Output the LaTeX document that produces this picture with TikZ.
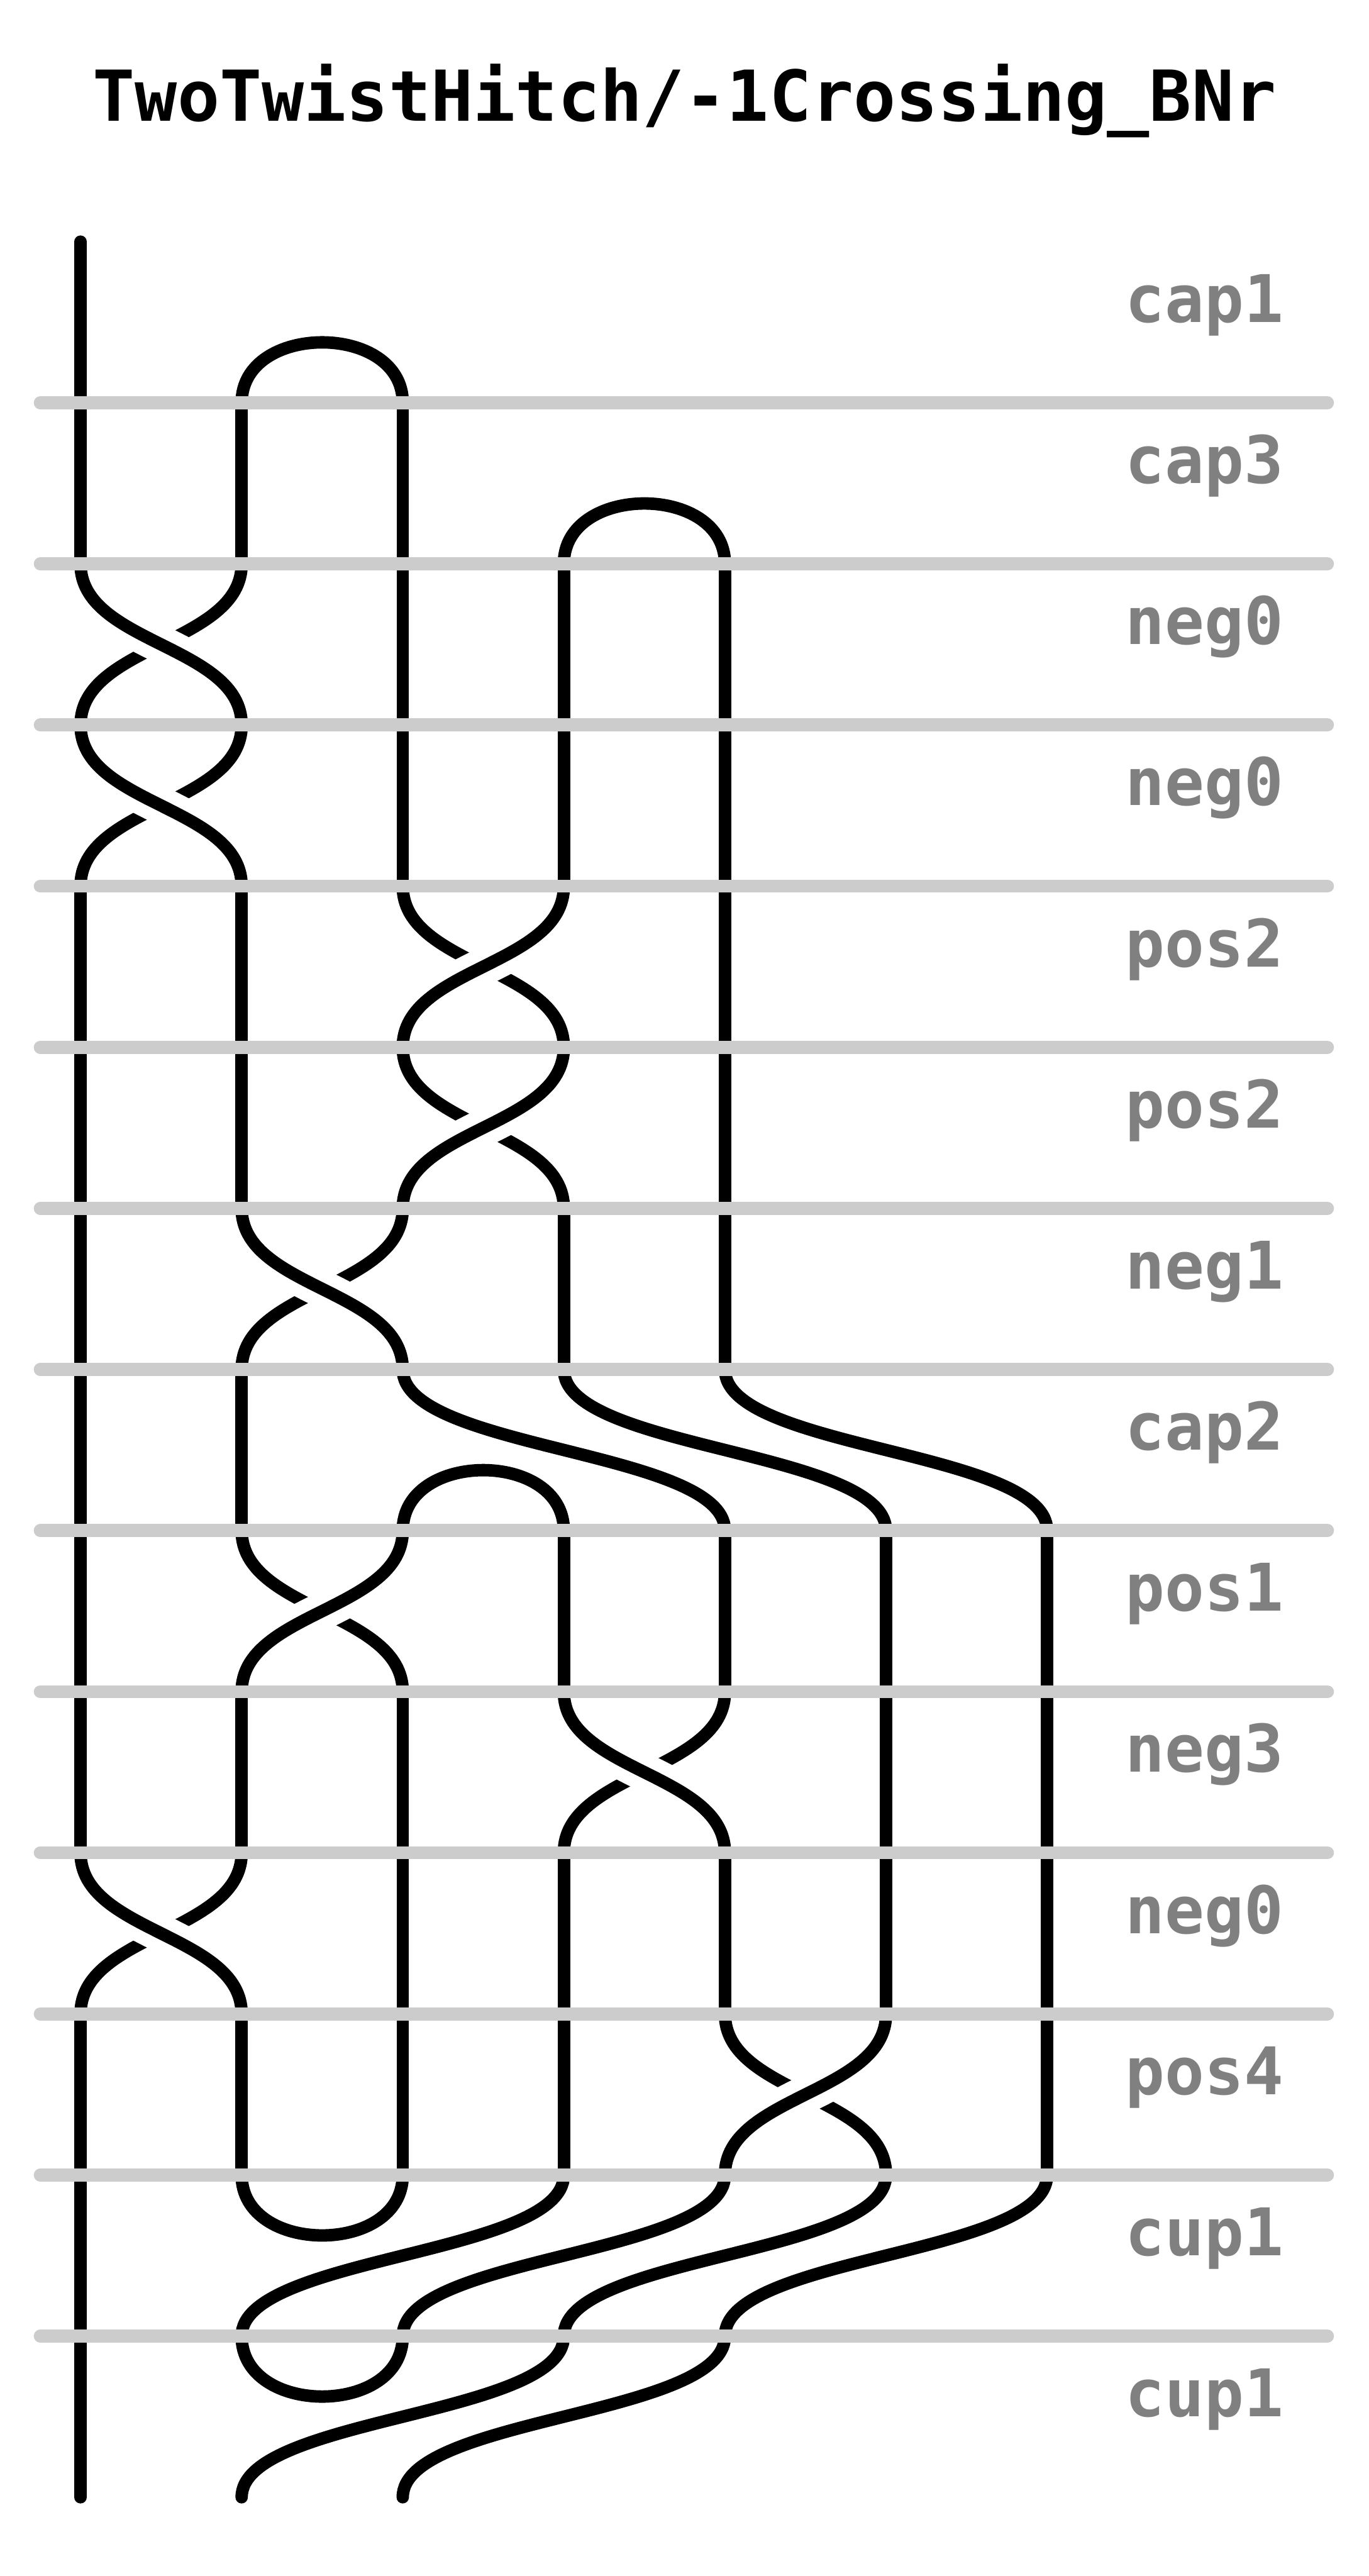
\documentclass[tikz,border=0pt]{standalone}
\usepackage{fontspec}
\setmonofont{DejaVu Sans Mono}
\definecolor{rulegray}{RGB}{204,204,204}
\definecolor{labelgray}{RGB}{128,128,128}

\tikzset{
  strand/.style={line width=2.2pt, line cap=round, black},
  halo/.style={line width=6.7pt, line cap=butt, white},
  level/.style={line width=2.3pt, line cap=round, rulegray},
  bandlabel/.style={anchor=base west, inner sep=0pt, text=labelgray,
    font=\fontsize{11.6}{13}\selectfont\ttfamily\bfseries},
  titletext/.style={anchor=base, inner sep=0pt,
    font=\fontsize{12.4}{14}\selectfont\ttfamily\bfseries}
}

% column #1 sits at x=0.5+#1, band #2 runs from y=1.5+#2 to y=2.5+#2
\newcommand{\straight}[2]{\draw[strand] ({0.5+#1},{1.5+#2}) -- ({0.5+#1},{2.5+#2});}
% S-curve from column #2 (top) to column #3 (bottom) in band #4
\newcommand{\swing}[4][strand]{\draw[#1] ({0.5+#2},{1.5+#4})
  .. controls ({0.5+#2},{2+#4}) and ({0.5+#3},{2+#4}) .. ({0.5+#3},{2.5+#4});}
\newcommand{\capArc}[2]{\draw[strand] ({0.5+#1},{2.5+#2})
  .. controls ({0.5+#1},{2+#2}) and ({1.5+#1},{2+#2}) .. ({1.5+#1},{2.5+#2});}
\newcommand{\cupArc}[2]{\draw[strand] ({0.5+#1},{1.5+#2})
  .. controls ({0.5+#1},{2+#2}) and ({1.5+#1},{2+#2}) .. ({1.5+#1},{1.5+#2});}
% negative crossing: top-left to bottom-right passes over
\newcommand{\negX}[2]{\swing{#1+1}{#1}{#2}\swing[halo]{#1}{#1+1}{#2}\swing{#1}{#1+1}{#2}}
% positive crossing: top-right to bottom-left passes over
\newcommand{\posX}[2]{\swing{#1}{#1+1}{#2}\swing[halo]{#1+1}{#1}{#2}\swing{#1+1}{#1}{#2}}

\begin{document}
\begin{tikzpicture}[x=1cm, y=-1cm]

\useasboundingbox (0,0) rectangle (8.496,15.989);

%---------------------------------------
% Title
%---------------------------------------
\node[titletext] (title) at (4.25,0.752) {TwoTwistHitch/-1Crossing\_BNr};

%---------------------------------------
% Strands, band by band
%---------------------------------------
% cap1
\straight{0}{0}
\capArc{1}{0}
% cap3
\foreach \k in {0,1,2} {\straight{\k}{1}}
\capArc{3}{1}
% neg0, neg0
\negX{0}{2}
\foreach \k in {2,3,4} {\straight{\k}{2}}
\negX{0}{3}
\foreach \k in {2,3,4} {\straight{\k}{3}}
% pos2, pos2
\foreach \k in {0,1,4} {\straight{\k}{4}}
\posX{2}{4}
\foreach \k in {0,1,4} {\straight{\k}{5}}
\posX{2}{5}
% neg1
\foreach \k in {0,3,4} {\straight{\k}{6}}
\negX{1}{6}
% cap2
\straight{0}{7}
\straight{1}{7}
\swing{2}{4}{7}
\swing{3}{5}{7}
\swing{4}{6}{7}
\capArc{2}{7}
% pos1
\foreach \k in {0,3,4,5,6} {\straight{\k}{8}}
\posX{1}{8}
% neg3
\foreach \k in {0,1,2,5,6} {\straight{\k}{9}}
\negX{3}{9}
% neg0
\foreach \k in {2,3,4,5,6} {\straight{\k}{10}}
\negX{0}{10}
% pos4
\foreach \k in {0,1,2,3,6} {\straight{\k}{11}}
\posX{4}{11}
% cup1
\straight{0}{12}
\cupArc{1}{12}
\swing{3}{1}{12}
\swing{4}{2}{12}
\swing{5}{3}{12}
\swing{6}{4}{12}
% cup1
\straight{0}{13}
\cupArc{1}{13}
\swing{3}{1}{13}
\swing{4}{2}{13}

%---------------------------------------
% Level lines (on top of the strands)
%---------------------------------------
\foreach \j in {1,...,13} {
  \draw[level] (0.25,{1.5+\j}) -- (8.24,{1.5+\j});
}

%---------------------------------------
% Band labels
%---------------------------------------
\foreach \lab [count=\b from 0] in {cap1,cap3,neg0,neg0,pos2,pos2,neg1,cap2,pos1,neg3,neg0,pos4,cup1,cup1} {
  \node[bandlabel] (lab\b) at (6.98,{2+\b}) {\lab};
}

\end{tikzpicture}
\end{document}
